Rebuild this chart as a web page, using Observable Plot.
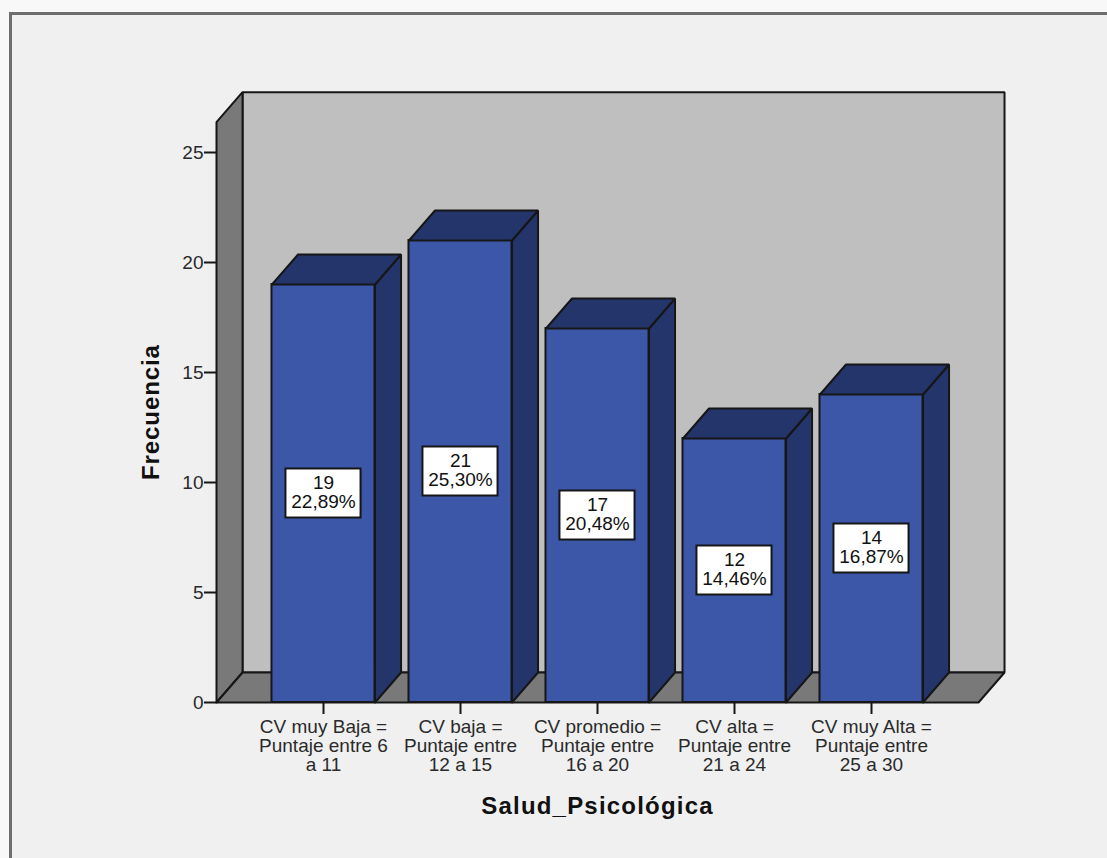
<!DOCTYPE html>
<html lang="es">
<head>
<meta charset="utf-8">
<title>Salud_Psicológica</title>
<script src="https://cdn.jsdelivr.net/npm/d3@7"></script>
<script src="https://cdn.jsdelivr.net/npm/@observablehq/plot@0.6"></script>
<style>
  html, body { margin: 0; padding: 0; background: #f8f8f8; overflow: hidden; }
  #panel { position: absolute; left: 9px; top: 12px; width: 1200px; height: 1000px;
           background: #f0f0f0; border-left: 3px solid #6e6e6e; border-top: 3px solid #6e6e6e; }
  #chart { position: absolute; left: 0; top: 0; }
  #chart svg { background: transparent; display: block; overflow: visible; }
  .title-y { letter-spacing: 0.9px; }
  .title-x { letter-spacing: 1.2px; }
</style>
</head>
<body>
<div id="panel"></div>
<div id="chart"></div>
<script>
// Frequency table for the psychological health categories
const categories = [
  "CV muy Baja =\nPuntaje entre 6\na 11",
  "CV baja =\nPuntaje entre\n12 a 15",
  "CV promedio =\nPuntaje entre\n16 a 20",
  "CV alta =\nPuntaje entre\n21 a 24",
  "CV muy Alta =\nPuntaje entre\n25 a 30"
];
const counts = [19, 21, 17, 12, 14];
const percents = ["22,89%", "25,30%", "20,48%", "14,46%", "16,87%"];
const yTicks = [0, 5, 10, 15, 20, 25];

// Pseudo-3D box proportions, in scale units
const halfBar = 0.376;
const depthX = 0.19;
const depthY = 1.364;
const xMin = -0.781, xMax = 4.781;
const yTop = 25 + 0.23 * 6;      // height of the walls above the last tick
const boxHalfX = 0.274, boxHalfY = 1.114;

const ink = "#161616";
const font = "'Liberation Sans', Arial, sans-serif";

const poly = (id, pts) => [...pts, pts[0]].map(([x, y]) => ({id, x, y}));

const backWall = poly("back", [[xMin + depthX, depthY], [xMax + depthX, depthY], [xMax + depthX, yTop + depthY], [xMin + depthX, yTop + depthY]]);
const sideWall = poly("side", [[xMin, 0], [xMin + depthX, depthY], [xMin + depthX, yTop + depthY], [xMin, yTop]]);
const floor = poly("floor", [[xMin, 0], [xMax, 0], [xMax + depthX, depthY], [xMin + depthX, depthY]]);

const bars = counts.map((v, i) => ({i, v, x1: i - halfBar, x2: i + halfBar, pct: percents[i]}));
const barSides = bars.flatMap(b => poly(b.i, [[b.x2, 0], [b.x2 + depthX, depthY], [b.x2 + depthX, b.v + depthY], [b.x2, b.v]]));
const barTops = bars.flatMap(b => poly(b.i, [[b.x1, b.v], [b.x2, b.v], [b.x2 + depthX, b.v + depthY], [b.x1 + depthX, b.v + depthY]]));

const face = (data, fill) => Plot.line(data, {
  x: "x", y: "y", z: "id", fill, stroke: ink, strokeWidth: 2,
  strokeLinejoin: "miter", curve: "linear"
});

const chart = Plot.plot({
  width: 1107,
  height: 858,
  marginLeft: 216,
  marginRight: 129,
  marginTop: 152,
  marginBottom: 156,
  style: {background: "transparent", fontFamily: font, overflow: "visible"},
  x: {type: "linear", domain: [xMin, xMax]},
  y: {type: "linear", domain: [0, 25]},
  marks: [
    face(backWall, "#bfbfbf"),
    face(sideWall, "#797979"),
    face(floor, "#797979"),
    Plot.axisY({
      ticks: yTicks, tickSize: 12, tickPadding: 1, label: null,
      fontSize: 19, stroke: ink, strokeWidth: 2, color: "#2a2a2a"
    }),
    Plot.axisX({
      ticks: d3.range(categories.length), tickSize: 12, tickPadding: 5, label: null,
      tickFormat: i => categories[i], fontSize: 19, lineHeight: 1,
      stroke: ink, strokeWidth: 2, color: "#2a2a2a"
    }),
    Plot.rect(bars, {x1: "x1", x2: "x2", y1: 0, y2: "v", fill: "#3c56a8", stroke: ink, strokeWidth: 2}),
    face(barSides, "#24356c"),
    face(barTops, "#24356c"),
    Plot.rect(bars, {
      x1: b => b.i - boxHalfX, x2: b => b.i + boxHalfX,
      y1: b => b.v / 2 - boxHalfY, y2: b => b.v / 2 + boxHalfY,
      fill: "white", stroke: ink, strokeWidth: 2
    }),
    Plot.text(bars, {
      x: "i", y: b => b.v / 2, dy: -1, text: b => `${b.v}\n${b.pct}`,
      fontSize: 19, lineHeight: 1, fill: "#111", textAnchor: "middle"
    }),
    Plot.text(["Frecuencia"], {
      frameAnchor: "left", dx: -65, y: [13.2], rotate: -90, textAnchor: "middle",
      fontSize: 24, fontWeight: "bold", fill: "#111", className: "title-y"
    }),
    Plot.text(["Salud_Psicológica"], {
      frameAnchor: "bottom", x: [2], dy: 111, textAnchor: "middle",
      fontSize: 24, fontWeight: "bold", fill: "#111", className: "title-x"
    })
  ]
});
document.getElementById("chart").append(chart);
</script>
</body>
</html>
